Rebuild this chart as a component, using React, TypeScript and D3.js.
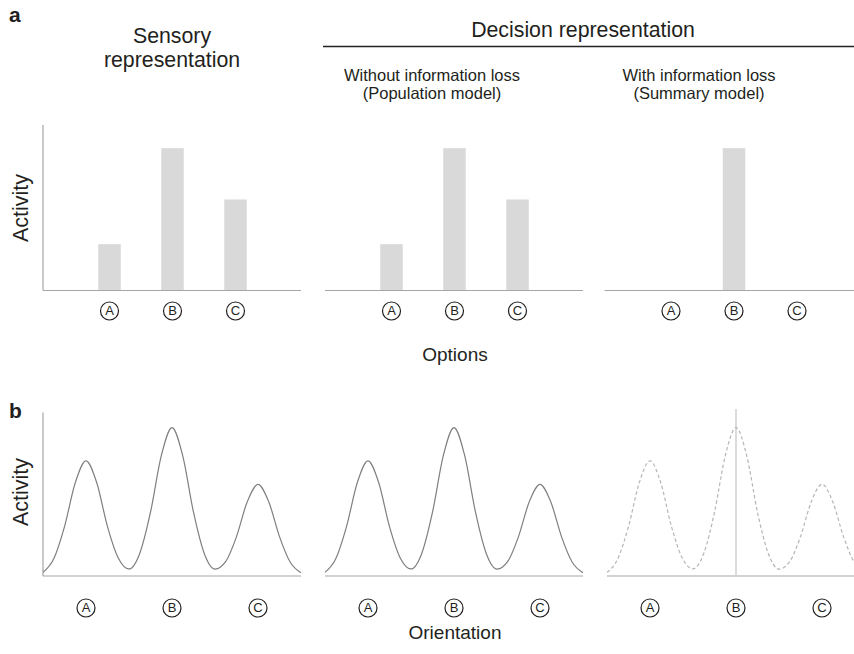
import React from "react";
import * as d3 from "d3";

// Options offered to the observer and the bar heights for each representation
const options = ["A", "B", "C"];
const sensoryActivity = [0.28, 0.86, 0.55];
const populationActivity = [0.28, 0.86, 0.55];
const summaryActivity = [0, 0.86, 0];

// Population response across orientation (A at 1, B at 3, C at 5)
const orientation = [
  0, 0.25, 0.5, 0.75, 1, 1.25, 1.5, 1.75, 2, 2.25, 2.5, 2.75, 3, 3.25, 3.5, 3.75, 4, 4.25, 4.5,
  4.75, 5, 5.25, 5.5, 5.75, 6,
];
const tuningActivity = [
  0.022, 0.105, 0.302, 0.57, 0.704, 0.57, 0.302, 0.11, 0.043, 0.138, 0.39, 0.735, 0.908, 0.735,
  0.39, 0.138, 0.042, 0.089, 0.241, 0.454, 0.561, 0.454, 0.241, 0.084, 0.02,
];
const optionOrientation = [1, 3, 5];
const summaryReadout = 3;

const W = 854;
const H = 654;
const FONT = "'Liberation Sans', Arial, Helvetica, sans-serif";
const TEXT = "#231f20";
const AXIS = "#a6a6a6";
const BAR = "#d9d9d9";

const panelX = [43, 325, 606];
const panelW = 258;

const barTop = 125;
const barBase = 290.5;
const curveTop = 412.5;
const curveBase = 576;

const yBar = d3.scaleLinear().domain([0, 1]).range([barBase, barTop]);
const yCurve = d3.scaleLinear().domain([0, 1]).range([curveBase, curveTop]);

function CircleLabel({ x, y, label }: { x: number; y: number; label: string }) {
  return (
    <g transform={`translate(${x},${y})`}>
      <circle r={9} fill="none" stroke={TEXT} strokeWidth={1.2} />
      <text
        y={0.5}
        textAnchor="middle"
        dominantBaseline="middle"
        fontFamily={FONT}
        fontSize={13}
        fill={TEXT}
      >
        {label}
      </text>
    </g>
  );
}

function BarPanel({ x0, values, yAxis }: { x0: number; values: number[]; yAxis: boolean }) {
  const x = d3.scalePoint<string>().domain(options).range([x0 + 66.5, x0 + 192.5]);
  const bw = 22.5;
  return (
    <g>
      {values.map((v, i) =>
        v > 0 ? (
          <rect
            key={options[i]}
            x={(x(options[i]) as number) - bw / 2}
            y={yBar(v)}
            width={bw}
            height={yBar(0) - yBar(v)}
            fill={BAR}
          />
        ) : null
      )}
      <line x1={x0} x2={x0 + panelW} y1={barBase} y2={barBase} stroke={AXIS} strokeWidth={1.2} />
      {yAxis && <line x1={x0} x2={x0} y1={barTop} y2={barBase} stroke={AXIS} strokeWidth={1.2} />}
      {options.map((o) => (
        <CircleLabel key={o} x={x(o) as number} y={311} label={o} />
      ))}
    </g>
  );
}

function CurvePanel({
  x0,
  yAxis,
  dashed,
  readout,
}: {
  x0: number;
  yAxis: boolean;
  dashed?: boolean;
  readout?: number;
}) {
  const x = d3.scaleLinear().domain([0, 6]).range([x0, x0 + panelW]);
  const line = d3
    .line<number>()
    .x((_, i) => x(orientation[i]))
    .y((d) => yCurve(d))
    .curve(d3.curveMonotoneX);
  return (
    <g>
      <line x1={x0} x2={x0 + panelW} y1={curveBase} y2={curveBase} stroke={AXIS} strokeWidth={1.2} />
      {yAxis && (
        <line x1={x0} x2={x0} y1={curveTop} y2={curveBase} stroke={AXIS} strokeWidth={1.2} />
      )}
      {readout !== undefined && (
        <line
          x1={x(readout)}
          x2={x(readout)}
          y1={409}
          y2={curveBase}
          stroke="#cfcfcf"
          strokeWidth={1.5}
        />
      )}
      <path
        d={line(tuningActivity) || ""}
        fill="none"
        stroke={dashed ? "#b5b5b5" : "#7f7f7f"}
        strokeWidth={1.2}
        strokeDasharray={dashed ? "3.5,2.5" : undefined}
      />
      {options.map((o, i) => (
        <CircleLabel key={o} x={x(optionOrientation[i])} y={608} label={o} />
      ))}
    </g>
  );
}

export default function App() {
  return (
    <svg
      width={W}
      height={H}
      viewBox={`0 0 ${W} ${H}`}
      style={{ position: "absolute", left: 0, top: 0, background: "#fff", display: "block" }}
    >
      <rect width={W} height={H} fill="#fff" />

      {/* panel labels */}
      <text x={9} y={22} fontFamily={FONT} fontWeight="bold" fontSize={21} fill={TEXT}>
        a
      </text>
      <text x={9} y={418} fontFamily={FONT} fontWeight="bold" fontSize={21} fill={TEXT}>
        b
      </text>

      {/* column headings */}
      <g fontFamily={FONT} fill={TEXT} textAnchor="middle">
        <text x={172} y={43} fontSize={21.3}>
          Sensory
        </text>
        <text x={172} y={67} fontSize={21.3}>
          representation
        </text>
        <text x={583} y={37} fontSize={21.3}>
          Decision representation
        </text>
        <text x={432} y={81} fontSize={16.5}>
          Without information loss
        </text>
        <text x={432} y={99} fontSize={16.5}>
          (Population model)
        </text>
        <text x={699} y={81} fontSize={16.5}>
          With information loss
        </text>
        <text x={699} y={99} fontSize={16.5}>
          (Summary model)
        </text>
      </g>
      <line x1={323} x2={W} y1={46.5} y2={46.5} stroke="#222" strokeWidth={1.3} />

      {/* a: option bars */}
      <BarPanel x0={panelX[0]} values={sensoryActivity} yAxis />
      <BarPanel x0={panelX[1]} values={populationActivity} yAxis={false} />
      <BarPanel x0={panelX[2] - 1.5} values={summaryActivity} yAxis={false} />

      {/* b: orientation tuning */}
      <CurvePanel x0={panelX[0]} yAxis />
      <CurvePanel x0={panelX[1]} yAxis={false} />
      <CurvePanel x0={panelX[2] + 1} yAxis={false} dashed readout={summaryReadout} />

      {/* axis titles */}
      <g fontFamily={FONT} fill={TEXT} textAnchor="middle" fontSize={21.5}>
        <text transform="translate(28,208) rotate(-90)">Activity</text>
        <text transform="translate(28,492) rotate(-90)">Activity</text>
      </g>
      <g fontFamily={FONT} fill={TEXT} textAnchor="middle" fontSize={19}>
        <text x={455} y={361}>
          Options
        </text>
        <text x={455} y={639}>
          Orientation
        </text>
      </g>
    </svg>
  );
}
